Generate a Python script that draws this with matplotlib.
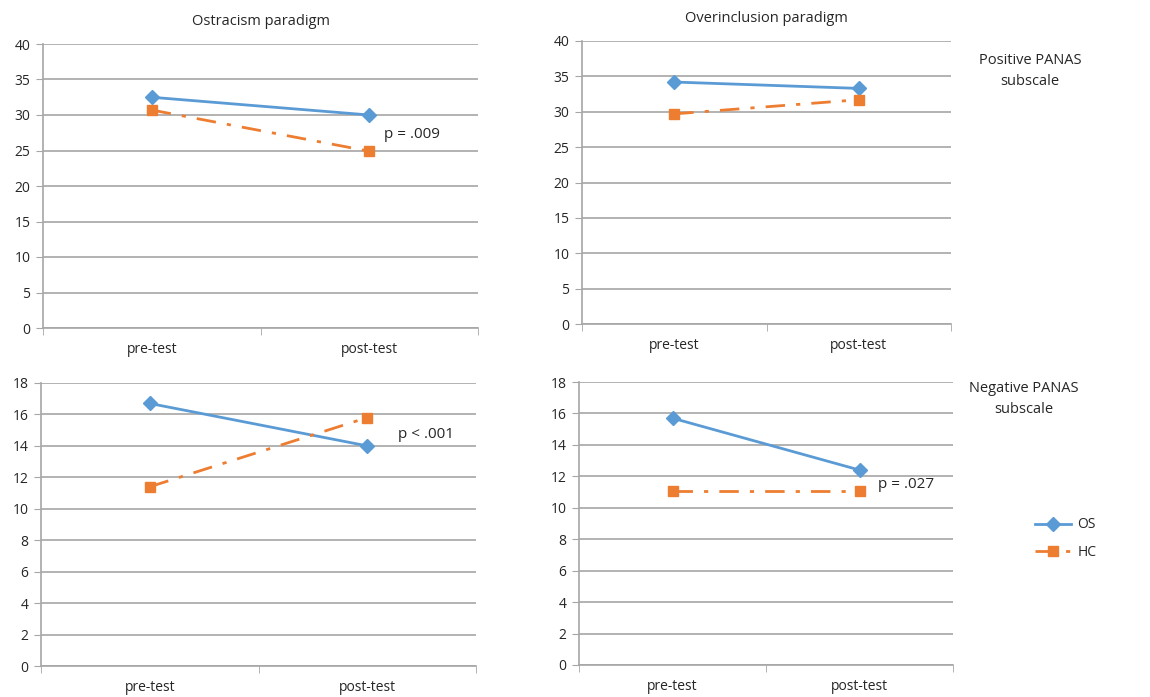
import matplotlib
matplotlib.use("Agg")
import matplotlib.pyplot as plt

plt.rcParams['font.family'] = ['Open Sans', 'DejaVu Sans']

# Data
phases = ['pre-test', 'post-test']
groups = ['OS', 'HC']

ostracism_pos_os = [32.5, 30.0]
ostracism_pos_hc = [30.7, 24.9]
overinclusion_pos_os = [34.2, 33.3]
overinclusion_pos_hc = [29.7, 31.7]
ostracism_neg_os = [16.7, 14.0]
ostracism_neg_hc = [11.4, 15.8]
overinclusion_neg_os = [15.7, 12.4]
overinclusion_neg_hc = [11.05, 11.05]

titles = ['Ostracism paradigm', 'Overinclusion paradigm']
p_labels = ['p = .009', '', 'p < .001', 'p = .027']

BLUE = '#5B9BD5'
ORANGE = '#ED7D31'
GRID = '#A6A6A6'
TEXT = '#262626'

W, H = 1150, 697
fig = plt.figure(figsize=(W / 100, H / 100), dpi=100)


def make_axes(left, right, top, bottom):
    return fig.add_axes([left / W, 1 - bottom / H, (right - left) / W, (bottom - top) / H])


def style_axes(ax, ymax, step):
    ax.set_xlim(0, 2)
    ax.set_ylim(0, ymax)
    ax.set_yticks(range(0, ymax + 1, step))
    ax.set_xticks([0.5, 1.5])
    ax.set_xticklabels(phases)
    ax.set_xticks([0, 1, 2], minor=True)
    ax.tick_params(axis='x', which='major', length=0, pad=10, labelsize=10, colors=TEXT)
    ax.tick_params(axis='x', which='minor', length=5, direction='out', color=GRID)
    ax.tick_params(axis='y', length=5, direction='out', color=GRID, labelsize=10, colors=TEXT, pad=4)
    ax.yaxis.grid(True, color=GRID, linewidth=1.2)
    ax.set_axisbelow(True)
    for side in ['top', 'right']:
        ax.spines[side].set_visible(False)
    for side in ['left', 'bottom']:
        ax.spines[side].set_color(GRID)
        ax.spines[side].set_linewidth(1.2)


def draw_series(ax, os_vals, hc_vals):
    x = [0.5, 1.5]
    ax.plot(x, os_vals, color=BLUE, linewidth=2, marker='D', markersize=7, label=groups[0], zorder=3)
    ax.plot(x, hc_vals, color=ORANGE, linewidth=2, linestyle=(0, (7, 4, 1.5, 4)),
            marker='s', markersize=7, label=groups[1], zorder=3)


ax1 = make_axes(43, 478, 44, 328)
ax2 = make_axes(582, 951, 41, 324)
ax3 = make_axes(41, 476, 383, 666)
ax4 = make_axes(579, 953, 382, 665)

style_axes(ax1, 40, 5)
style_axes(ax2, 40, 5)
style_axes(ax3, 18, 2)
style_axes(ax4, 18, 2)

draw_series(ax1, ostracism_pos_os, ostracism_pos_hc)
draw_series(ax2, overinclusion_pos_os, overinclusion_pos_hc)
draw_series(ax3, ostracism_neg_os, ostracism_neg_hc)
draw_series(ax4, overinclusion_neg_os, overinclusion_neg_hc)

ax1.set_title(titles[0], fontsize=10.5, color=TEXT, pad=14)
ax2.set_title(titles[1], fontsize=10.5, color=TEXT, pad=14)

ax1.text(1.57, 27.2, p_labels[0], fontsize=11, color=TEXT, va='center')
ax3.text(1.64, 14.75, p_labels[2], fontsize=11, color=TEXT, va='center')
ax4.text(1.60, 11.5, p_labels[3], fontsize=11, color=TEXT, va='center')

fig.text(1030 / W, 1 - 71 / H, 'Positive PANAS\nsubscale', ha='center', va='center',
         fontsize=10.5, color=TEXT, linespacing=1.5)
fig.text(1024 / W, 1 - 399 / H, 'Negative PANAS\nsubscale', ha='center', va='center',
         fontsize=10.5, color=TEXT, linespacing=1.5)

handles, labels = ax4.get_legend_handles_labels()
fig.legend(handles, labels, loc='upper left', bbox_to_anchor=(1022 / W, 1 - 505 / H),
           frameon=False, fontsize=10, handlelength=2.6, labelspacing=0.9,
           handletextpad=0.5, labelcolor=TEXT)

fig.savefig('out.png', dpi=100, facecolor='white')
